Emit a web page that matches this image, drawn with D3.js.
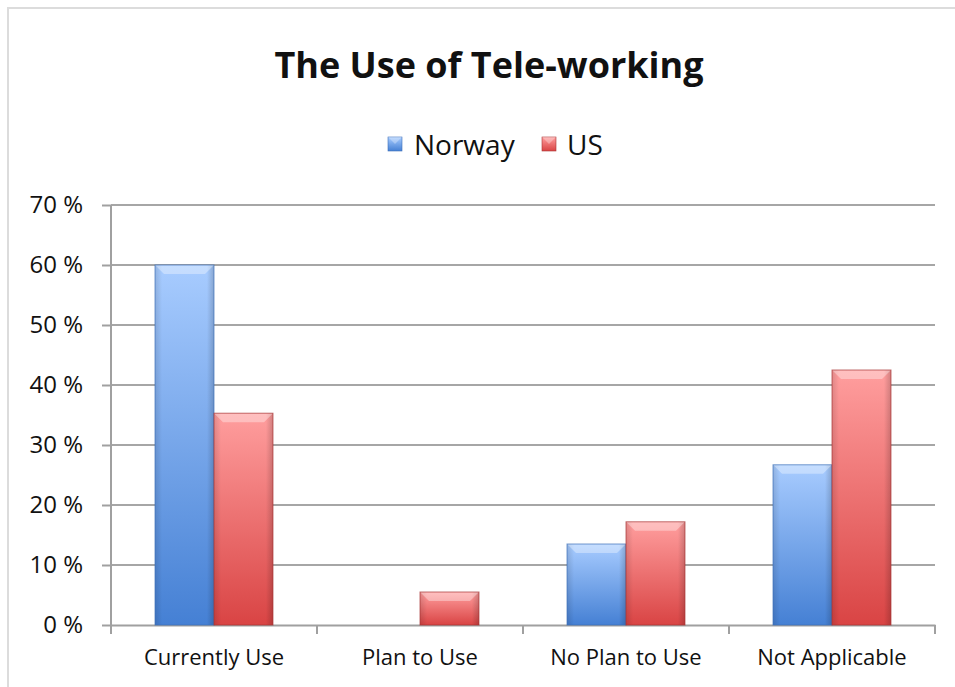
<!DOCTYPE html>
<html>
<head>
<meta charset="utf-8">
<script src="https://cdn.jsdelivr.net/npm/d3@7"></script>
<style>
  body { margin: 0; background: #fff; }
  text { font-family: "Open Sans", "Noto Sans", sans-serif; fill: #111; }
</style>
</head>
<body>
<div id="chart"></div>
<script>
var width = 955;
var height = 687;
var margin = { top: 205, right: 20, bottom: 62, left: 111 };

var categories = ["Currently Use", "Plan to Use", "No Plan to Use", "Not Applicable"];
var seriesNames = ["Norway", "US"];
var norway = [60, 0, 13.5, 26.7];
var us = [35.3, 5.5, 17.2, 42.5];
var yTicks = [0, 10, 20, 30, 40, 50, 60, 70];

var colors = {
  Norway: { light: "#a8ccff", mid: "#7fb0f4", dark: "#4580d4", edge: "#3c6fb8" },
  US: { light: "#ff9e9e", mid: "#f57878", dark: "#d94444", edge: "#a83434" }
};

var svg = d3.select("#chart").append("svg")
  .attr("width", width)
  .attr("height", height);

// frame
svg.append("rect")
  .attr("x", 8).attr("y", 8)
  .attr("width", width + 10).attr("height", height + 10)
  .attr("fill", "none")
  .attr("stroke", "#dcdcdc")
  .attr("stroke-width", 2);

var defs = svg.append("defs");
seriesNames.forEach(s => {
  var c = colors[s];
  var g = defs.append("linearGradient").attr("id", "g-" + s)
    .attr("x1", 0).attr("y1", 0).attr("x2", 0).attr("y2", 1);
  g.append("stop").attr("offset", "0%").attr("stop-color", c.light);
  g.append("stop").attr("offset", "100%").attr("stop-color", c.dark);
  var h = defs.append("linearGradient").attr("id", "h-" + s)
    .attr("x1", 0).attr("y1", 0).attr("x2", 1).attr("y2", 0);
  h.append("stop").attr("offset", "0%").attr("stop-color", "#000").attr("stop-opacity", 0.12);
  h.append("stop").attr("offset", "12%").attr("stop-color", "#000").attr("stop-opacity", 0);
  h.append("stop").attr("offset", "88%").attr("stop-color", "#000").attr("stop-opacity", 0);
  h.append("stop").attr("offset", "100%").attr("stop-color", "#000").attr("stop-opacity", 0.18);
});

var innerW = width - margin.left - margin.right;
var innerH = height - margin.top - margin.bottom;

var x0 = d3.scaleBand().domain(categories).range([margin.left, margin.left + innerW]).paddingInner(0).paddingOuter(0);
var x1 = d3.scaleBand().domain(seriesNames).range([0, x0.bandwidth()]).paddingOuter(0.746);
var y = d3.scaleLinear().domain([0, 70]).range([margin.top + innerH, margin.top]);

// title
svg.append("text")
  .attr("x", 489).attr("y", 78)
  .attr("text-anchor", "middle")
  .attr("font-size", 36)
  .attr("font-weight", "bold")
  .text("The Use of Tele-working");

// legend
var legendPos = [{ x: 388, tx: 414 }, { x: 542, tx: 567 }];
seriesNames.forEach((s, i) => {
  var lg = svg.append("g");
  lg.append("rect")
    .attr("x", legendPos[i].x).attr("y", 137)
    .attr("width", 14).attr("height", 14)
    .attr("fill", "url(#g-" + s + ")")
    .attr("stroke", colors[s].edge).attr("stroke-width", 0.6);
  lg.append("path")
    .attr("d", "M" + legendPos[i].x + ",137 l14,0 l-7,7 z")
    .attr("fill", "#fff").attr("opacity", 0.3);
  lg.append("text")
    .attr("x", legendPos[i].tx).attr("y", 155)
    .attr("font-size", 28)
    .text(s);
});

// gridlines
svg.append("g")
  .selectAll("line")
  .data(yTicks.slice(1))
  .enter()
  .append("line")
  .attr("x1", margin.left).attr("x2", margin.left + innerW)
  .attr("y1", d => y(d)).attr("y2", d => y(d))
  .attr("stroke", "#a6a6a6").attr("stroke-width", 2);

// y axis
var yAxis = svg.append("g")
  .attr("transform", "translate(" + margin.left + ",0)")
  .call(d3.axisLeft(y).tickValues(yTicks).tickSize(9).tickPadding(19).tickFormat(d => d + " %"));
yAxis.selectAll("line, path").attr("stroke", "#a0a0a0").attr("stroke-width", 2);
yAxis.select(".domain").attr("d", "M0," + y(70) + "V" + y(0));
yAxis.selectAll("text")
  .attr("font-size", 24)
  .attr("fill", "#111")
  .style("font-family", "'Open Sans', sans-serif");

// x axis
var xAxis = svg.append("g")
  .attr("transform", "translate(0," + y(0) + ")")
  .call(d3.axisBottom(x0).tickSize(0).tickPadding(24));
xAxis.select(".domain").attr("stroke", "#a0a0a0").attr("stroke-width", 2);
xAxis.selectAll("text")
  .attr("font-size", 22)
  .attr("fill", "#111")
  .style("font-family", "'Open Sans', sans-serif");
svg.append("g")
  .selectAll("line")
  .data(categories.map(c => x0(c)).concat([margin.left + innerW]))
  .enter()
  .append("line")
  .attr("x1", d => d).attr("x2", d => d)
  .attr("y1", y(0)).attr("y2", y(0) + 9)
  .attr("stroke", "#a0a0a0").attr("stroke-width", 2);

// bars
var rows = categories.map((c, i) => ({ cat: c, values: [norway[i], us[i]] }));
var bevel = 9;

var group = svg.append("g").selectAll("g")
  .data(rows)
  .enter()
  .append("g")
  .attr("transform", d => "translate(" + x0(d.cat) + ",0)");

var bar = group.selectAll("g")
  .data(d => d.values.map((v, i) => ({ s: seriesNames[i], v: v })).filter(d => d.v > 0))
  .enter()
  .append("g");

bar.append("rect")
  .attr("x", d => x1(d.s)).attr("y", d => y(d.v))
  .attr("width", x1.bandwidth()).attr("height", d => y(0) - y(d.v))
  .attr("fill", d => "url(#g-" + d.s + ")");
bar.append("rect")
  .attr("x", d => x1(d.s)).attr("y", d => y(d.v))
  .attr("width", x1.bandwidth()).attr("height", d => y(0) - y(d.v))
  .attr("fill", d => "url(#h-" + d.s + ")");
// top bevel
bar.append("path")
  .attr("d", d => {
    var bx = x1(d.s), by = y(d.v), bw = x1.bandwidth();
    var b = Math.min(bevel, (y(0) - y(d.v)) / 2);
    return "M" + bx + "," + by + "h" + bw + "l" + (-b) + "," + b + "h" + (-(bw - 2 * b)) + "z";
  })
  .attr("fill", "#fff").attr("opacity", 0.35);
bar.append("rect")
  .attr("x", d => x1(d.s)).attr("y", d => y(d.v))
  .attr("width", x1.bandwidth()).attr("height", d => y(0) - y(d.v))
  .attr("fill", "none")
  .attr("stroke", d => colors[d.s].edge).attr("stroke-width", 1).attr("stroke-opacity", 0.7);
</script>
</body>
</html>
